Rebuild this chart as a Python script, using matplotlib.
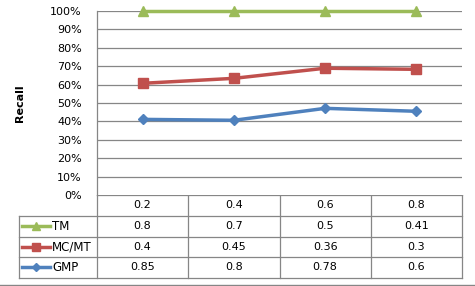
import matplotlib.pyplot as plt
from matplotlib.lines import Line2D

# chart values
x_labels = ["0.2", "0.4", "0.6", "0.8"]
series_names = ["TM", "MC/MT", "GMP"]
recall_tm = [100, 100, 100, 100]
recall_mcmt = [60.7, 63.4, 68.9, 68.3]
recall_gmp = [41.1, 40.6, 47.1, 45.5]
table_tm = ["0.8", "0.7", "0.5", "0.41"]
table_mcmt = ["0.4", "0.45", "0.36", "0.3"]
table_gmp = ["0.85", "0.8", "0.78", "0.6"]

colors = {"TM": "#9BBB59", "MC/MT": "#C0504D", "GMP": "#4F81BD"}
markers = {"TM": "^", "MC/MT": "s", "GMP": "D"}
msizes = {"TM": 7, "MC/MT": 6.5, "GMP": 5.5}
grid_col = "#868686"
W, H = 475, 286
fs = 8

plt.rcParams["font.family"] = ["DejaVu Sans"]
fig = plt.figure(figsize=(W / 100, H / 100), dpi=100)


def px_box(x0, y0, x1, y1):
    return [x0 / W, 1 - y1 / H, (x1 - x0) / W, (y1 - y0) / H]


# line chart
ax = fig.add_axes(px_box(97, 11, 462, 195))
xs = [i + 0.5 for i in range(len(x_labels))]
for name, vals in zip(series_names, [recall_tm, recall_mcmt, recall_gmp]):
    ax.plot(xs, vals, color=colors[name], lw=2.5, marker=markers[name],
            ms=msizes[name], zorder=3, clip_on=False)
ax.set_xlim(0, 4)
ax.set_ylim(0, 100)
ax.set_yticks(range(0, 101, 10))
ax.set_yticklabels([f"{v}%" for v in range(0, 101, 10)], fontsize=fs)
ax.set_xticks([])
for v in range(10, 101, 10):
    ax.axhline(v, color=grid_col, lw=0.9, zorder=1)
for s in ["top", "right", "bottom"]:
    ax.spines[s].set_visible(False)
ax.spines["left"].set_color(grid_col)
ax.spines["left"].set_linewidth(0.9)
ax.tick_params(axis="y", length=0, pad=11)
ax.set_ylabel("Recall", fontsize=fs, fontweight="bold", labelpad=18)

# data table below
tx = fig.add_axes(px_box(0, 195, W, H))
tx.set_xlim(0, W)
tx.set_ylim(H, 195)
tx.axis("off")
col_x = [97 + k * (462 - 97) / 4 for k in range(5)]
row_y = [195, 216, 237, 257, 278]
lk = dict(color=grid_col, lw=0.9)
# header row
tx.plot([97, 462], [row_y[0]] * 2, **lk)
for r in row_y[1:]:
    tx.plot([19, 462], [r, r], **lk)
for c in col_x:
    tx.plot([c, c], [row_y[0], row_y[-1]], **lk)
tx.plot([19, 19], [row_y[1], row_y[-1]], **lk)
for i, lab in enumerate(x_labels):
    tx.text((col_x[i] + col_x[i + 1]) / 2, (row_y[0] + row_y[1]) / 2, lab,
            ha="center", va="center", fontsize=fs)
for j, (name, vals) in enumerate(zip(series_names, [table_tm, table_mcmt, table_gmp])):
    yc = (row_y[j + 1] + row_y[j + 2]) / 2
    tx.add_line(Line2D([22, 50], [yc, yc], color=colors[name], lw=2.5))
    tx.plot([36], [yc], marker=markers[name], color=colors[name], ms=msizes[name] - 1)
    tx.text(52, yc, name, ha="left", va="center", fontsize=fs + 0.5)
    for i, v in enumerate(vals):
        tx.text((col_x[i] + col_x[i + 1]) / 2, yc, v, ha="center", va="center", fontsize=fs)
tx.plot([0, W], [285, 285], color=grid_col, lw=1.0)

fig.savefig("out.png", dpi=100)
